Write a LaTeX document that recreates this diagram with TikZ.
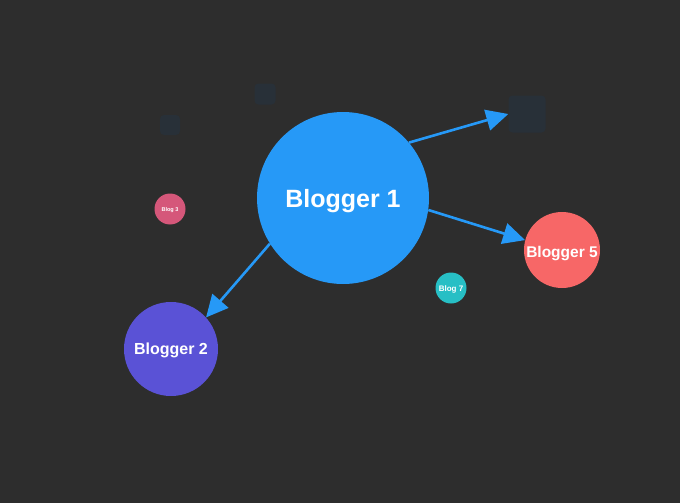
\documentclass[tikz,border=0pt]{standalone}
\usepackage{fontspec}
\setmainfont{Liberation Sans}
\usetikzlibrary{arrows.meta}
\definecolor{bg}{HTML}{2D2D2D}
\definecolor{sqc}{HTML}{283038}
\definecolor{blue1}{HTML}{2699F7}
\definecolor{purp}{HTML}{5A52D6}
\definecolor{coral}{HTML}{F76767}
\definecolor{pink}{HTML}{D5577A}
\definecolor{teal}{HTML}{27BFC5}
\newcommand{\dropby}[2]{\raisebox{-#1}[\height][\depth]{#2}}
\tikzset{
  blob/.style={circle, inner sep=0pt, text=white, font=\bfseries},
  ghost/.style={rectangle, rounded corners=4pt, fill=sqc, inner sep=0pt},
  link/.style={draw=blue1, line width=2.6pt, -{Triangle[length=22pt,width=21pt]}}
}
\begin{document}
\begin{tikzpicture}[x=1pt,y=-1pt]
\fill[bg] (0,0) rectangle (680,503);
\useasboundingbox (0,0) rectangle (680,503);
\node[ghost, minimum size=20pt] (sq1) at (170,125) {};
\node[ghost, minimum size=21pt] (sq2) at (265,94) {};
\node[ghost, minimum size=37pt] (sq3) at (527,114) {};
\node[blob, fill=blue1, minimum size=172pt, font=\bfseries\fontsize{25}{30}\selectfont] (b1) at (343,198) {\dropby{3pt}{Blogger 1}};
\node[blob, fill=purp, minimum size=94pt, font=\bfseries\fontsize{16}{19}\selectfont] (b2) at (171,349) {\dropby{1pt}{Blogger 2}};
\node[blob, fill=coral, minimum size=76pt, font=\bfseries\fontsize{15.5}{19}\selectfont] (b5) at (562,250) {\dropby{4pt}{Blogger 5}};
\node[blob, fill=pink, minimum size=31pt, font=\bfseries\fontsize{5.5}{7}\selectfont] (b3) at (170,209) {\dropby{0.8pt}{Blog 3}};
\node[blob, fill=teal, minimum size=31pt, font=\bfseries\fontsize{8}{10}\selectfont] (b7) at (451,288) {\dropby{1pt}{Blog 7}};
\draw[link] (b1.40) -- (sq3.west);
\draw[link] (b1.-8) -- (b5.165);
\draw[link] (b1.212) -- (b2.42);
\end{tikzpicture}
\end{document}
